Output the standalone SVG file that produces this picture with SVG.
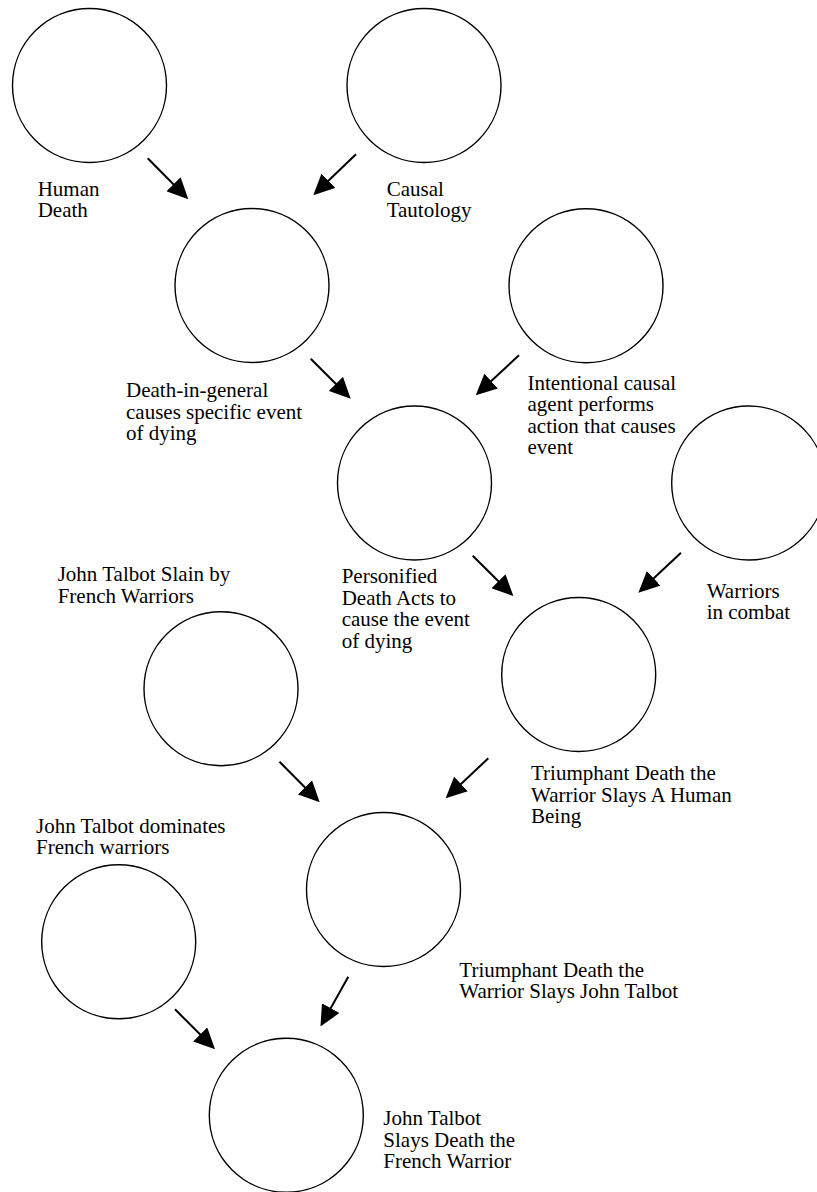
<svg xmlns="http://www.w3.org/2000/svg" width="817" height="1192" viewBox="0 0 817 1192">
<style>
.node circle{fill:#fff;stroke:#000;stroke-width:1.4}
.lbl{font-family:"Liberation Serif","Times New Roman",serif;font-size:21px;fill:#000}
.conn line{stroke:#000;stroke-width:2;marker-end:url(#ah)}
</style>
<defs>
<marker id="ah" viewBox="0 0 21 20" refX="16" refY="10" markerWidth="21" markerHeight="20" markerUnits="userSpaceOnUse" orient="auto">
<path d="M0,0 L21,10 L0,20 z" fill="#000"/>
</marker>
</defs>
<rect width="817" height="1192" fill="#fff"/>
<g id="n-human-death" class="node">
<circle cx="89.5" cy="85.5" r="77"/>
<text class="lbl" x="37.7" y="196"><tspan x="37.7">Human</tspan><tspan x="37.7" dy="21">Death</tspan></text>
</g>
<g id="n-causal-tautology" class="node">
<circle cx="424" cy="85.5" r="77"/>
<text class="lbl" x="386.7" y="195.5"><tspan x="386.7">Causal</tspan><tspan x="386.7" dy="21.2">Tautology</tspan></text>
</g>
<g id="n-death-in-general" class="node">
<circle cx="252" cy="285.5" r="77"/>
<text class="lbl" y="397"><tspan x="126">Death-in-general</tspan><tspan x="126" dy="21.5">causes specific event</tspan><tspan x="126" dy="21.5">of dying</tspan></text>
</g>
<g id="n-intentional" class="node">
<circle cx="586" cy="285.8" r="77"/>
<text class="lbl" y="389.5"><tspan x="527.5">Intentional causal</tspan><tspan x="527.5" dy="21.5">agent performs</tspan><tspan x="527.5" dy="21.5">action that causes</tspan><tspan x="527.5" dy="21.5">event</tspan></text>
</g>
<g id="n-personified" class="node">
<circle cx="414.5" cy="483" r="77"/>
<text class="lbl" y="583"><tspan x="341.7">Personified</tspan><tspan x="341.7" dy="21.5">Death Acts to</tspan><tspan x="341.7" dy="21.5">cause the event</tspan><tspan x="341.7" dy="21.5">of dying</tspan></text>
</g>
<g id="n-warriors" class="node">
<circle cx="748.7" cy="483" r="77"/>
<text class="lbl" y="598"><tspan x="706.7">Warriors</tspan><tspan x="706.7" dy="21">in combat</tspan></text>
</g>
<g id="n-triumphant-human" class="node">
<circle cx="578.7" cy="674.5" r="77"/>
<text class="lbl" y="780"><tspan x="531">Triumphant Death the</tspan><tspan x="531" dy="21.5">Warrior Slays A Human</tspan><tspan x="531" dy="21.5">Being</tspan></text>
</g>
<g id="n-talbot-slain" class="node">
<circle cx="221" cy="688.7" r="77"/>
<text class="lbl" y="581"><tspan x="57.7">John Talbot Slain by</tspan><tspan x="57.7" dy="21.7">French Warriors</tspan></text>
</g>
<g id="n-triumphant-talbot" class="node">
<circle cx="383.5" cy="889.5" r="77"/>
<text class="lbl" y="976.7"><tspan x="459.3">Triumphant Death the</tspan><tspan x="459.3" dy="21.6">Warrior Slays John Talbot</tspan></text>
</g>
<g id="n-talbot-dominates" class="node">
<circle cx="118.7" cy="941.8" r="77"/>
<text class="lbl" y="832.7"><tspan x="36">John Talbot dominates</tspan><tspan x="36" dy="20.8">French warriors</tspan></text>
</g>
<g id="n-talbot-slays-death" class="node">
<circle cx="286.3" cy="1115.3" r="77"/>
<text class="lbl" y="1125"><tspan x="383.3">John Talbot</tspan><tspan x="383.3" dy="21.7">Slays Death the</tspan><tspan x="383.3" dy="21.7">French Warrior</tspan></text>
</g>
<g id="connectors" class="conn">
<line x1="147.7" y1="158.3" x2="184.8" y2="195.7"/>
<line x1="356" y1="154.3" x2="316.9" y2="191.8"/>
<line x1="310.7" y1="358.7" x2="347.2" y2="395.2"/>
<line x1="519" y1="355.3" x2="479.4" y2="391.9"/>
<line x1="472.7" y1="555.7" x2="509.8" y2="592.5"/>
<line x1="681" y1="552.7" x2="642" y2="589.3"/>
<line x1="279.5" y1="761.7" x2="316.2" y2="798.7"/>
<line x1="488.3" y1="758.3" x2="449.3" y2="794.9"/>
<line x1="348.3" y1="976.7" x2="322.9" y2="1022.1"/>
<line x1="175" y1="1009.3" x2="211.5" y2="1045.8"/>
</g>
</svg>
